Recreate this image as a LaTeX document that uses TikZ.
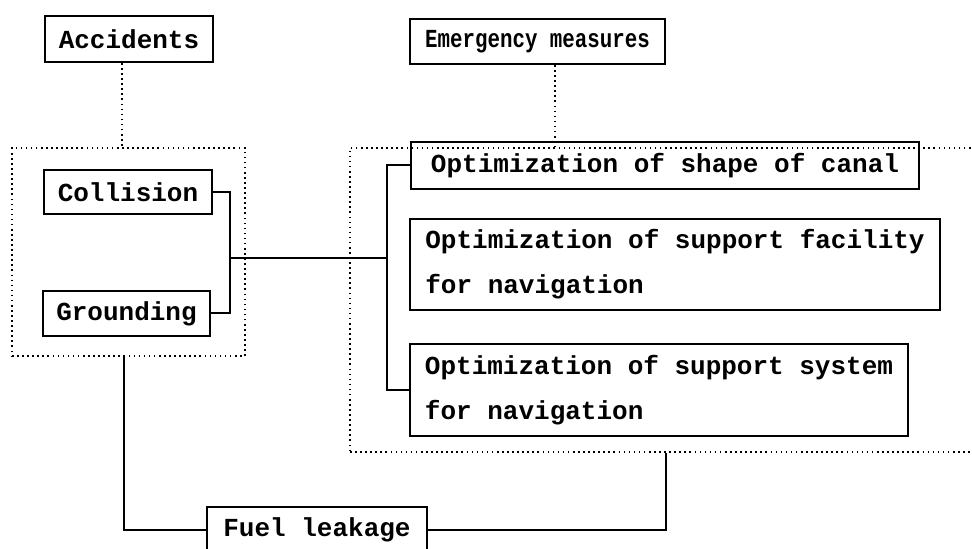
\documentclass[tikz,border=0pt]{standalone}
\usepackage{fontspec}
\newfontfamily\monob{Liberation Mono}
\newfontfamily\monon[FakeStretch=0.8]{Liberation Mono}
\begin{document}
\begin{tikzpicture}[x=0.75pt,y=-0.75pt,
  box/.style={draw, line width=1.5pt, inner ysep=0pt, inner xsep=0pt,
    font=\monob\bfseries\fontsize{19.5}{33.75}\selectfont},
  lbox/.style={box, align=left},
  group/.style={draw, line width=1.6pt, dash pattern=on 1.2pt off 2.6pt},
  dotline/.style={line width=1.6pt, dash pattern=on 1.2pt off 2.6pt},
  conn/.style={line width=1.5pt},
  thinconn/.style={line width=0.9pt}]
\useasboundingbox (0,0) rectangle (972,549);
\clip (0,0) rectangle (972,549);
% groups
\node[group, minimum width=174.75pt, minimum height=156pt] (accgroup) at (128.5,252) {};
\node[group, minimum width=474pt, minimum height=228pt] (emgroup) at (666,300) {};
% top boxes
\node[box, minimum width=126pt, minimum height=34.5pt] (acc) at (129,39) {Accidents};
\node[box, minimum width=191.25pt, minimum height=33.75pt,
  font=\monon\bfseries\fontsize{19.5}{22}\selectfont] (em) at (537.5,41.5) {Emergency measures};
% left group boxes
\node[box, minimum width=126pt, minimum height=33pt] (col) at (128,192) {Collision};
\node[box, minimum width=125.25pt, minimum height=33.75pt] (gro) at (126.5,313.5) {Grounding};
% right group boxes
\node[lbox, minimum width=381pt, minimum height=35.25pt] (canal) at (665,165.5) {Optimization of shape of canal};
\node[lbox, minimum width=397.5pt, minimum height=68.25pt] (fac) at (675,264.5) {Optimization of support facility\\for navigation};
\node[lbox, minimum width=373.5pt, minimum height=69pt] (sys) at (659,390) {Optimization of support system\\for navigation};
% bottom
\node[box, minimum width=165pt, minimum height=34.5pt] (fuel) at (317,530) {Fuel leakage};
% connectors
\coordinate (jl) at (230,258);
\coordinate (jr) at (387,258);
\draw[dotline] ([xshift=-5.25pt]acc.south) -- ([xshift=-5.25pt]acc.south |- accgroup.north);
\draw[dotline] ([xshift=13pt]em.south) -- ([xshift=13pt]em.south |- emgroup.north);
\draw[conn] (col.east) -| (jl) |- (gro.east);
\draw[thinconn] (jl) -- (jr);
\draw[conn] (canal.west) -| (jr) |- (sys.west);
\draw[conn] ([xshift=-3.4pt]accgroup.south) |- (fuel.west);
\draw[conn] (fuel.east) -| (emgroup.south);
\end{tikzpicture}
\end{document}
